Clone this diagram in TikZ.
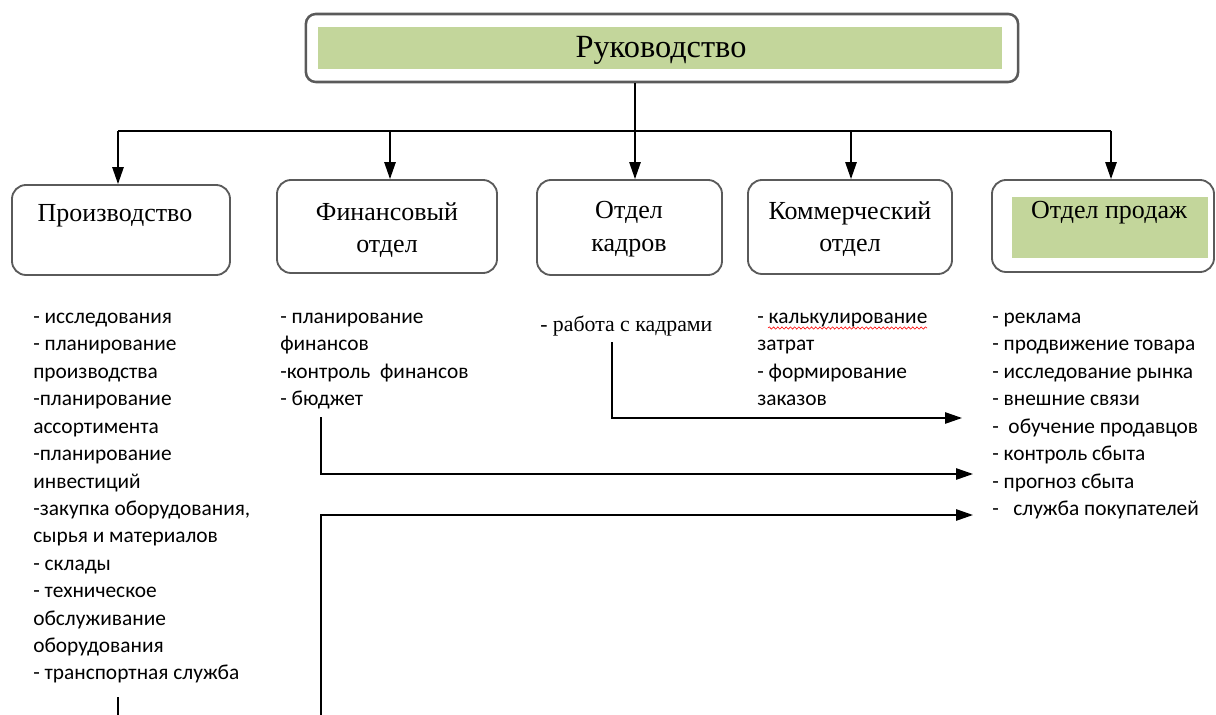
\documentclass[tikz,border=0pt]{standalone}
\usepackage{fontspec}
\setmainfont{Liberation Serif}
\newfontfamily\listfont{Carlito}
\usepackage{xcolor}
\usetikzlibrary{arrows.meta,positioning,decorations.pathmorphing}
\definecolor{leaf}{HTML}{C3D69B}
\definecolor{frame}{HTML}{5A5A5A}

\begin{document}
\begin{tikzpicture}[x=0.025cm,y=-0.025cm,
  dept/.style={draw=frame, line width=1.3pt, rounded corners=10pt, fill=white, inner sep=0pt},
  lbl/.style={font=\fontsize{18.5}{23}\selectfont, align=center, inner sep=0pt},
  duty/.style={font=\listfont\fontsize{15.2}{19.5}\selectfont, align=left, anchor=north west, inner sep=0pt},
  conn/.style={line width=1.2pt},
  arr/.style={conn, -{Triangle[width=8pt,length=12pt]}}]
\useasboundingbox (0,0) rectangle (1216,715);

% Руководство
\node[dept, rounded corners=7pt, line width=1.8pt, minimum width=17.8cm, minimum height=1.7cm] (top) at (662,48) {};
\node[fill=leaf, minimum width=17.1cm, minimum height=1.05cm, inner sep=0pt] (topG) at (660,48) {};
\node[inner sep=0pt, font=\fontsize{23}{28}\selectfont] (topL) at (661,50) {Руководство};

% department boxes
\node[dept, minimum width=5.45cm, minimum height=2.25cm] (prod) at (121,230) {};
\node[dept, minimum width=5.5cm, minimum height=2.325cm] (fin) at (387,226.5) {};
\node[dept, minimum width=4.625cm, minimum height=2.375cm] (cad) at (629.5,227.5) {};
\node[dept, minimum width=5.1cm, minimum height=2.35cm] (com) at (850,227) {};
\node[dept, minimum width=5.55cm, minimum height=2.3cm] (sales) at (1103,226) {};
\node[fill=leaf, minimum width=4.9cm, minimum height=1.525cm, inner sep=0pt] (salesG) at (1110,227.5) {};

\node[lbl] (prodL) at (115,216) {Производство};
\node[lbl] (finL) at (387,230) {Финансовый\\отдел};
\node[lbl] (cadL) at (629,229) {Отдел\\кадров};
\node[lbl] (comL) at (850,229) {Коммерческий\\отдел};
\node[lbl] (salesL) at (1109,213) {Отдел продаж};

% bus
\coordinate (b1) at (118,131);
\coordinate (b2) at (390,131);
\coordinate (b3) at (635,131);
\coordinate (b4) at (851,131);
\coordinate (b5) at (1111,131);
\draw[conn] (b1) -- (b5);
\draw[conn] (top.south -| b3) -- (b3);
\foreach \b/\d in {b1/prod,b2/fin,b3/cad,b4/com,b5/sales}
  \draw[arr] (\b) -- (\b |- \d.north);

% duties
\node[duty] (prodD) at (33,304) {\strut- исследования\\- планирование\\производства\\-планирование\\ассортимента\\-планирование\\инвестиций\\-закупка оборудования,\\сырья и материалов\\- склады\\- техническое\\обслуживание\\оборудования\\- транспортная служба};
\node[duty] (finD) at (280,304) {\strut- планирование\\финансов\\-контроль\ \ финансов\\- бюджет};
\node[anchor=base west, inner sep=0pt, font=\fontsize{15.5}{19.5}\selectfont] (cadD) at (540,331) {- работа с кадрами};
\node[duty] (comD) at (757,304) {\strut- калькулирование\\затрат\\- формирование\\заказов};
\node[duty] (salesD) at (992,304) {\strut- реклама\\- продвижение товара\\- исследование рынка\\- внешние связи\\-\ \ обучение продавцов\\- контроль сбыта\\- прогноз сбыта\\-\ \ \ служба покупателей};
\draw[red, decorate, decoration={snake, amplitude=0.8pt, segment length=3pt}] (768,328) -- (927,328);

% links to sales
\coordinate (c1) at (612,342);
\coordinate (t1) at (962,418);
\coordinate (c2) at (321,417);
\coordinate (t2) at (973,474);
\coordinate (c3) at (321,715);
\coordinate (t3) at (973,515);
\coordinate (s1) at (118,697);
\coordinate (s2) at (118,715);
\draw[arr] (c1) |- (t1);
\draw[arr] (c2) |- (t2);
\draw[arr] (c3) |- (t3);
\draw[conn] (s1) -- (s2);
\end{tikzpicture}
\end{document}
